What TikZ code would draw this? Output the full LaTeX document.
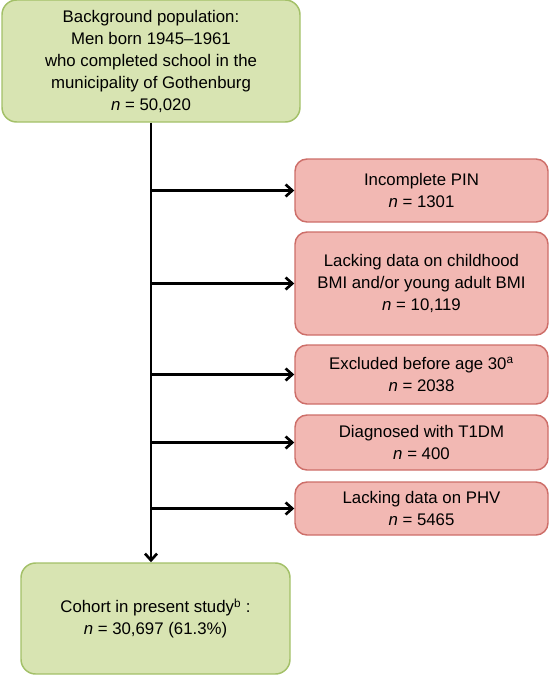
\documentclass[tikz,border=0pt]{standalone}
\usepackage{fontspec}
\setmainfont{Liberation Sans}
\usetikzlibrary{arrows.meta}
\definecolor{keptfill}{HTML}{D8E4B2}
\definecolor{keptline}{HTML}{A3C068}
\definecolor{dropfill}{HTML}{F2B8B3}
\definecolor{dropline}{HTML}{CD6E69}
\begin{document}
\begin{tikzpicture}[x=0.75pt,y=-0.75pt,
    kept/.style ={draw=keptline, fill=keptfill, line width=1.1pt, rounded corners=11pt,
                  inner sep=0pt, align=center, font=\fontsize{12.6}{16.5}\selectfont},
    dropped/.style ={draw=dropline, fill=dropfill, line width=1.1pt, rounded corners=9pt,
                  inner sep=0pt, align=center, minimum width=189.75pt,
                  font=\fontsize{12.6}{16.5}\selectfont},
    flow/.style ={line width=2pt, -{Straight Barb[length=5pt,width=9pt,line width=2pt]}}]
   \useasboundingbox (0,0) rectangle (552,675);
   \node[kept, minimum width=223.5pt, minimum height=91.5pt] (bg) at (151,61)
      {Background population:\\Men born 1945--1961\\who completed school in the\\municipality of Gothenburg\\\textit{n} = 50,020};
   \node[dropped, minimum height=47.25pt] (pin) at (421.5,190.5) {Incomplete PIN\\\textit{n} = 1301};
   \node[dropped, minimum height=77.25pt] (bmi) at (421.5,283.5) {Lacking data on childhood\\BMI and/or young adult BMI\\\textit{n} = 10,119};
   \node[dropped, minimum height=44.25pt] (age) at (421.5,374.5) {Excluded before age 30\textsuperscript{a}\\\textit{n} = 2038};
   \node[dropped, minimum height=41.25pt] (tdm) at (421.5,442.5) {Diagnosed with T1DM\\\textit{n} = 400};
   \node[dropped, minimum height=39.75pt] (phv) at (421.5,508.5) {Lacking data on PHV\\\textit{n} = 5465};
   \node[kept, minimum width=201.75pt, minimum height=83.25pt] (coh) at (155.5,618.5)
      {Cohort in present study\textsuperscript{b} :\\\textit{n} = 30,697 (61.3\%)};

   \draw[flow] (bg.south) -- (bg.south |- coh.north);
   \draw[flow] (bg.south |- pin.west) -- (pin.west);
   \draw[flow] (bg.south |- bmi.west) -- (bmi.west);
   \draw[flow] (bg.south |- age.west) -- (age.west);
   \draw[flow] (bg.south |- tdm.west) -- (tdm.west);
   \draw[flow] (bg.south |- phv.west) -- (phv.west);
 \end{tikzpicture}
\end{document}
